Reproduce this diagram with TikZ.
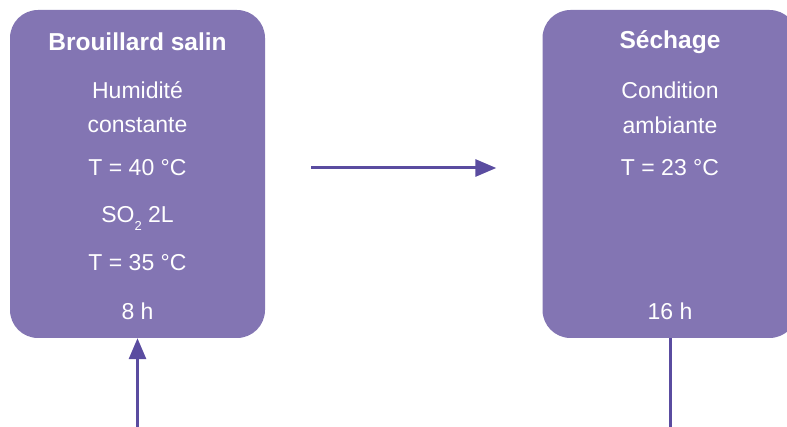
\documentclass[tikz,border=0pt]{standalone}
\usepackage{fontspec}
\setmainfont{Liberation Sans}
\usepackage{xcolor}
\usepackage{tikz}
\usetikzlibrary{arrows.meta, positioning}
\definecolor{boxfill}{RGB}{131,117,179}
\definecolor{arrowcol}{RGB}{90,76,160}
\newcommand{\lowsub}[1]{\raisebox{-0.32em}[0pt][0pt]{\fontsize{13}{13}\selectfont #1}}
\tikzset{
    stage/.style={rectangle, rounded corners=28pt, minimum width=255pt, minimum height=328pt, fill=boxfill, draw=none},
    title/.style={text=white, font=\fontsize{24.5}{28}\selectfont\bfseries, inner sep=0pt},
    info/.style={text=white, font=\fontsize{23}{27}\selectfont, inner sep=0pt},
    flow/.style={-{Triangle[length=21pt,width=17pt]}, line width=3pt, draw=arrowcol},
    link/.style={line width=3pt, draw=arrowcol}
}

\begin{document}
\begin{tikzpicture}[x=1pt, y=-1pt]
    \useasboundingbox (0,0) rectangle (787,427);

    % Stages
    \node[stage] (brouillard) at (137.5,174) {};
    \node[stage] (sechage) at (670,174) {};

    % Salt fog
    \node[title] (titreb) at (137.5,42) {Brouillard salin};
    \node[info] (humid) at (137.5,90) {Humidité};
    \node[info] (const) at (137.5,125) {constante};
    \node[info] (temp1) at (137.5,168) {T = 40 °C};
    \node[info] (so2) at (137.5,215) {SO\lowsub{2} 2L};
    \node[info] (temp2) at (137.5,263) {T = 35 °C};
    \node[info] (dureeb) at (137.5,311) {8 h};

    % Drying
    \node[title] (titres) at (670,42) {Séchage};
    \node[info] (cond) at (670,90) {Condition};
    \node[info] (amb) at (670,125) {ambiante};
    \node[info] (temp3) at (670,168) {T = 23 °C};
    \node[info] (durees) at (670,311) {16 h};

    % Connections
    \coordinate (entree) at (137.5,427);
    \coordinate (sortie) at (670,427);
    \draw[flow] (entree) -- (brouillard.south);
    \draw[flow, shorten <=46pt, shorten >=46pt] (brouillard.east |- temp1) -- (sechage.west |- temp1);
    \draw[link] (sechage.south) -- (sortie);
\end{tikzpicture}
\end{document}
